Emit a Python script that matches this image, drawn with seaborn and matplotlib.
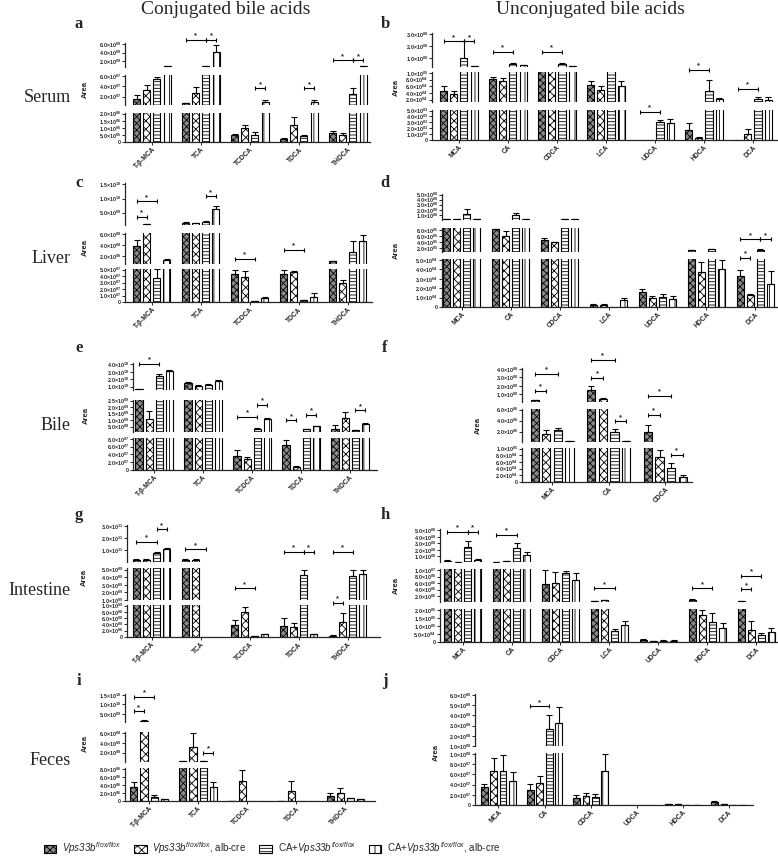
import numpy as np
import pandas as pd
import matplotlib
matplotlib.use("Agg")
import matplotlib.pyplot as plt
from matplotlib.patches import Patch
import seaborn as sns

# bile acids on the x axis
conj = ["T-β-MCA", "TCA", "TCDCA", "TDCA", "THDCA"]
unconj = ["MCA", "CA", "CDCA", "LCA", "UDCA", "HDCA", "DCA"]
bile_unconj = ["MCA", "CA", "CDCA"]
feces_unconj = ["MCA", "CA", "CDCA", "UDCA", "HDCA", "DCA"]

groups = ["flox", "flox_cre", "ca_flox", "ca_flox_cre"]
group_labels = [r"$\mathit{Vps33b}^{\mathit{flox/flox}}$",
                r"$\mathit{Vps33b}^{\mathit{flox/flox}}$, alb-cre",
                r"CA+$\mathit{Vps33b}^{\mathit{flox/flox}}$",
                r"CA+$\mathit{Vps33b}^{\mathit{flox/flox}}$, alb-cre"]

# mean area, one row per group
a_mean = [[1.55e7, 7e6, 0.5e6, 0.23e6, 0.62e6],
          [3.3e7, 2.8e7, 0.97e6, 1.22e6, 0.5e6],
          [5.4e7, 0.85e9, 0.5e6, 0.39e6, 2.45e7],
          [0.85e9, 4.2e9, 1.0e7, 1.0e7, 0.85e9]]
a_err = [[0.85e7, 0.1e7, 0.07e6, 0.04e6, 0.14e6],
         [0.9e7, 1.1e7, 0.25e6, 0.55e6, 0.14e6],
         [0.4e7, 0.05e9, 0.19e6, 0.14e6, 1.25e7],
         [0.05e9, 1.5e9, 0.4e7, 0.4e7, 0.05e9]]

b_mean = [[4.7e4, 8.1e4, 5e6, 6.3e4, 0, 1.7e3, 0],
          [3.7e4, 7.6e4, 5e6, 5.0e4, 0, 0.4e3, 1.1e3],
          [1.0e8, 5e7, 5e7, 5e6, 3.0e3, 4.7e4, 2.1e4],
          [2.8e7, 3.6e7, 2.8e7, 6.1e4, 2.9e3, 2.1e4, 1.9e4]]
b_err = [[1.4e4, 0.6e4, 0, 1.3e4, 0, 1.2e3, 0],
         [0.8e4, 1.0e4, 0, 1.1e4, 0, 0.15e3, 0.7e3],
         [1.45e8, 0.8e7, 0.8e7, 0, 0.4e3, 3.1e4, 0.7e4],
         [0.1e7, 0.6e7, 0.1e7, 1.5e4, 0.7e3, 0.5e4, 1.0e4]]

c_mean = [[3.8e8, 1.45e9, 4.37e7, 4.3e7, 9.9e7],
          [8.6e8, 1.2e9, 3.84e7, 4.6e7, 2.9e7],
          [3.7e7, 1.8e9, 0.16e7, 0.26e7, 2.67e8],
          [1.17e8, 6.2e9, 0.63e7, 0.8e7, 4.7e8]]
c_err = [[1.1e8, 0.35e9, 0.55e7, 0.7e7, 0.05e8],
         [0.2e8, 0.25e9, 0.9e7, 0.15e7, 0.5e7],
         [1.4e7, 0.35e9, 0.02e7, 0.03e7, 2.0e8],
         [0.3e8, 1.2e9, 0.16e7, 0.6e7, 1.2e8]]

d_mean = [[1.4e7, 8.2e5, 4.6e5, 1.8e3, 1.6e4, 1.17e5, 3.3e4],
          [1.4e7, 5.96e5, 3.8e5, 2.15e3, 1.0e4, 3.77e4, 1.26e4],
          [1.18e8, 9.9e7, 2.05e7, 0, 1.08e4, 1.5e5, 1.4e5],
          [1.2e7, 1.2e7, 1.2e7, 7.2e3, 8.3e3, 4.06e4, 2.4e4]]
d_err = [[0, 0.2e5, 0.8e5, 1.0e3, 3.6e3, 0.05e5, 6.5e3],
         [0, 1.5e5, 0.1e5, 1.4e3, 1.8e3, 9.7e3, 1.1e3],
         [0.92e8, 0.46e8, 0.3e7, 0, 2.9e3, 0.05e5, 0.05e5],
         [0, 0.3e7, 0, 2.8e3, 3.2e3, 9.4e3, 1.4e4]]

e_mean = [[6.3e9, 1.46e10, 3.6e7, 6.5e7, 3.4e8],
          [1.12e9, 1.09e10, 2.75e7, 0.86e7, 1.17e9],
          [2.37e10, 1.23e10, 3.4e8, 2.9e8, 2.1e8],
          [3.15e10, 1.82e10, 1.12e9, 5.2e8, 6.7e8]]
e_err = [[0.3e9, 0.23e10, 1.5e7, 1.3e7, 2.6e8],
         [0.6e9, 0.14e10, 0.6e7, 0.25e7, 0.47e9],
         [0.32e10, 0.1e10, 0.06e9, 0.05e9, 0.03e9],
         [0.1e10, 0.1e10, 0.08e9, 0.03e9, 0.11e9]]

f_mean = [[3e7, 1.5e8, 1.93e6],
          [1.63e6, 5e7, 7.55e4],
          [2.24e6, 1.93e6, 4.3e4],
          [2.8e5, 2.2e5, 1.5e4]]
f_err = [[0.8e7, 0.48e8, 1.2e6],
         [0.73e6, 0.12e8, 2.1e4],
         [0.42e6, 0.49e6, 1.3e4],
         [0.3e5, 0.2e5, 0.7e4]]

g_mean = [[2.46e10, 2.46e10, 3.8e8, 3.6e8, 0.43e8],
          [2.46e10, 2.46e10, 8.1e8, 3.25e8, 4.9e8],
          [8e10, 0, 0.43e8, 4.25e9, 4.1e9],
          [1.16e11, 0, 0.87e8, 0.87e8, 4.38e9]]
g_err = [[0.5e10, 0.3e10, 1.6e8, 2.4e8, 0.2e8],
         [0.3e10, 0.4e10, 1.4e8, 1.1e8, 2.9e8],
         [0.8e10, 0, 0.01e8, 0.75e9, 0.9e9],
         [0.8e10, 0, 0.2e8, 0.2e8, 0.62e9]]

h_mean = [[3.1e7, 2e7, 5.6e6, 5.2e5, 1.05e4, 8.3e5, 5.2e5],
          [2e7, 2.5e7, 6.1e6, 7.3e5, 0.63e4, 1.69e5, 7.4e4],
          [2.39e8, 2.23e8, 9.1e6, 6.75e4, 0.84e4, 1.27e5, 4.2e4],
          [5.1e7, 1.29e8, 6.9e6, 1.05e5, 0.84e4, 8.9e4, 6.3e4]]
h_err = [[0.8e7, 0, 4.3e6, 0.1e5, 0.6e4, 0.2e6, 0.1e6],
         [0, 0, 3.4e6, 0.2e6, 0.2e4, 3.2e4, 5.7e4],
         [1.04e8, 0.87e8, 0.7e6, 1.05e4, 0.2e4, 5.3e4, 1.1e4],
         [0.1e8, 0.42e8, 2.1e6, 2.7e4, 0.2e4, 3.2e4, 2.5e4]]

i_mean = [[3.43e6, 3.2e7, 0.08e6, 0.08e6, 1.26e6],
          [9.7e8, 3.16e8, 5.0e6, 2.6e6, 1.93e6],
          [1.09e6, 2.55e7, 0, 0, 0.67e6],
          [0.5e6, 3.43e6, 0, 0, 0.42e6]]
i_err = [[1.25e6, 0.2e7, 0, 0, 0.84e6],
         [0.63e9, 2.84e8, 2.76e6, 2.26e6, 1.42e6],
         [0.35e6, 0.1e7, 0, 0, 0.17e6],
         [0.05e6, 1.25e6, 0, 0, 0.08e6]]

j_mean = [[3.6e7, 2.96e7, 1.45e7, 0, 1.3e6, 6.6e6],
          [6.6e7, 4.28e7, 1.84e7, 0, 2.0e6, 1.3e6],
          [6.7e7, 2.68e8, 1.51e7, 0, 0.7e6, 0.5e6],
          [4.8e7, 3.24e8, 6.7e7, 0, 0.6e6, 0.5e6]]
j_err = [[0.46e7, 1.2e7, 0.5e7, 0, 0.3e6, 1.5e6],
         [2.6e7, 1.45e7, 0.46e7, 0, 0.3e6, 0.3e6],
         [3.2e7, 1.32e8, 0.6e7, 0, 0.2e6, 0.1e6],
         [1.6e7, 1.55e8, 3.3e7, 0, 0.2e6, 0.1e6]]

# broken y axis: (ylim, ticks) per segment, top to bottom
a_segs = [((0.7e9, 6.2e9), [2e9, 4e9, 6e9]),
          ((4e6, 6.2e7), [2e7, 4e7, 6e7]),
          ((0, 2.05e6), [0, 5e5, 1e6, 1.5e6, 2e6])]
b_segs = [((2.2e7, 3.1e8), [1e8, 2e8, 3e8]),
          ((1.3e4, 1.03e5), [2e4, 4e4, 6e4, 8e4, 1e5]),
          ((0, 5.1e3), [0, 1e3, 2e3, 3e3, 4e3, 5e3])]
c_segs = [((6.2e8, 1.55e10), [5e9, 1e10, 1.5e10]),
          ((5.1e7, 6.2e8), [2e8, 4e8, 6e8]),
          ((0, 5.1e7), [0, 1e7, 2e7, 3e7, 4e7, 5e7])]
d_segs = [((1e6, 5.1e8), [1e8, 2e8, 3e8, 4e8, 5e8]),
          ((6e4, 8.6e5), [2e5, 4e5, 6e5, 8e5]),
          ((0, 5.1e4), [0, 1e4, 2e4, 3e4, 4e4, 5e4])]
e_segs = [((5.4e9, 4.2e10), [1e10, 2e10, 3e10, 4e10]),
          ((8.2e7, 2.55e9), [5e8, 1e9, 1.5e9, 2e9, 2.5e9]),
          ((0, 8.2e7), [0, 2e7, 4e7, 6e7, 8e7])]
f_segs = [((1e7, 4.1e8), [1e8, 2e8, 3e8, 4e8]),
          ((1.0e5, 6.1e6), [2e6, 4e6, 6e6]),
          ((0, 1.02e5), [0, 2e4, 4e4, 6e4, 8e4, 1e5])]
g_segs = [((5.2e9, 3.1e11), [1e11, 2e11, 3e11]),
          ((1.0e9, 5.2e9), [1e9, 2e9, 3e9, 4e9, 5e9]),
          ((0, 1.02e9), [0, 2e8, 4e8, 6e8, 8e8, 1e9])]
h_segs = [((1.5e7, 5.2e8), [1e8, 2e8, 3e8, 4e8, 5e8]),
          ((2.05e5, 1.03e7), [2e6, 4e6, 6e6, 8e6, 1e7]),
          ((0, 2.05e5), [0, 5e4, 1e5, 1.5e5, 2e5])]
i_segs = [((6.2e8, 1.55e10), [5e9, 1e10, 1.5e10]),
          ((1.2e7, 6.2e8), [2e8, 4e8, 6e8]),
          ((0, 8.2e6), [0, 2e6, 4e6, 6e6, 8e6])]
j_segs = [((1.0e8, 6.1e8), [1e8, 2e8, 3e8, 4e8, 5e8, 6e8]),
          ((0, 1.02e8), [0, 2e7, 4e7, 6e7, 8e7, 1e8])]

# significance brackets: (segment, acid, group from, group to, height in segment)
a_sig = [(0, 1, 0, 2, 1.14), (0, 1, 2, 3, 1.14), (0, 4, 0, 2, 0.28), (0, 4, 2, 3, 0.28),
         (1, 2, 2, 3, 0.56), (1, 3, 2, 3, 0.56)]
b_sig = [(0, 0, 0, 2, 0.75), (0, 0, 2, 3, 0.75), (0, 1, 0, 2, 0.45), (0, 2, 0, 2, 0.45),
         (1, 5, 0, 2, 1.08), (1, 6, 0, 2, 0.44), (2, 4, 0, 2, 0.94)]
c_sig = [(0, 0, 0, 1, 0.2), (0, 0, 0, 2, 0.56), (0, 1, 2, 3, 0.68), (1, 2, 0, 2, 0.16),
         (1, 3, 0, 2, 0.45)]
d_sig = [(2, 6, 0, 1, 1.02), (1, 6, 0, 2, 0.53), (1, 6, 2, 3, 0.53)]
e_sig = [(0, 0, 0, 2, 0.96), (1, 2, 0, 2, 0.47), (1, 2, 2, 3, 0.84), (1, 3, 0, 1, 0.37),
         (1, 3, 2, 3, 0.53), (1, 4, 2, 3, 0.68)]
f_sig = [(0, 0, 0, 1, 0.32), (0, 0, 0, 2, 0.82), (0, 1, 0, 1, 0.72), (0, 1, 0, 2, 1.25),
         (0, 2, 0, 2, 0.18), (1, 1, 2, 3, 0.63), (1, 2, 0, 1, 0.82), (2, 2, 2, 3, 0.8)]
g_sig = [(0, 0, 0, 2, 0.55), (0, 0, 2, 3, 0.88), (0, 1, 0, 2, 0.34), (0, 3, 0, 2, 0.27),
         (0, 3, 2, 3, 0.27), (0, 4, 0, 2, 0.27), (1, 2, 0, 2, 0.36), (2, 4, 0, 1, 1.06)]
h_sig = [(0, 0, 0, 2, 0.91), (0, 0, 2, 3, 0.91), (0, 1, 0, 2, 0.82), (1, 3, 0, 2, 0.41),
         (1, 5, 0, 2, 0.41), (1, 6, 0, 1, 0.38), (1, 6, 0, 2, 0.79)]
i_sig = [(0, 0, 0, 1, 0.38), (0, 0, 0, 2, 0.89), (1, 1, 2, 3, 0.31)]
j_sig = [(0, 1, 0, 2, 0.76)]

W, H = 778, 863
faces = ["#8a8a8a", "white", "white", "white"]
hatches = ["xxxxx", "xxxx", "-----", "|||"]

sns.set_style("ticks")
plt.rcParams["font.family"] = ["Liberation Sans", "DejaVu Sans"]
plt.rcParams["font.weight"] = "bold"
plt.rcParams["mathtext.fontset"] = "custom"
# digits in math fall back to rm, so rm is italic for the gene name
plt.rcParams["mathtext.rm"] = "Liberation Sans:style=italic:weight=normal"
plt.rcParams["mathtext.it"] = "Liberation Sans:style=italic:weight=normal"
plt.rcParams["mathtext.bf"] = "Liberation Sans:weight=bold"
plt.rcParams["hatch.linewidth"] = 0.6
plt.rcParams["axes.linewidth"] = 0.9

fig = plt.figure(figsize=(W / 100, H / 100), dpi=100)


def rect(x0, x1, y0, y1):
    return [x0 / W, 1 - y1 / H, (x1 - x0) / W, (y1 - y0) / H]


def sci(v):
    if v == 0:
        return "0"
    m, e = f"{v:.1e}".split("e")
    return f"{m}×10$^{{\\mathbf{{{int(e):02d}}}}}$"


def panel(cats, mean, err, segs, sig, xspan, rows, xlim):
    df = pd.DataFrame({"acid": [c for g in groups for c in cats],
                       "group": [g for g in groups for c in cats],
                       "area": np.ravel(mean)})
    axes, bars_by_seg = [], []
    for k, ((lim, ticks), (top, bottom)) in enumerate(zip(segs, rows)):
        last = k == len(segs) - 1
        ax = fig.add_axes(rect(xspan[0], xspan[1], top, bottom))
        sns.barplot(data=df, x="acid", y="area", hue="group", order=cats,
                    hue_order=groups, width=0.82, gap=0.3, errorbar=None,
                    legend=False, edgecolor="black", linewidth=0.8, ax=ax)
        bars = list(ax.containers)
        for g, cont in enumerate(bars):
            m = np.array(mean[g], dtype=float)
            e = np.array(err[g], dtype=float)
            for p in cont:
                p.set_facecolor(faces[g])
                p.set_hatch(hatches[g])
                if not last and p.get_height() <= lim[0]:
                    p.set_visible(False)
            xs = np.array([p.get_x() + p.get_width() / 2 for p in cont])
            keep = (m + e > lim[0] * 1.02) if not last else (m > 0)
            if keep.any():
                ax.errorbar(xs[keep], m[keep], yerr=[np.zeros(keep.sum()), e[keep]],
                            fmt="none", ecolor="black", elinewidth=0.8, capsize=2,
                            capthick=0.8)
        ax.set_xlim(xlim)
        ax.set_ylim(lim)
        ax.set_yticks(ticks)
        ax.set_yticklabels([sci(t) for t in ticks])
        ax.tick_params(axis="y", labelsize=3.8, length=2, width=0.7, pad=1)
        ax.set_xlabel("")
        ax.set_ylabel("")
        sns.despine(ax=ax)
        if not last:
            ax.spines["bottom"].set_visible(False)
            ax.tick_params(axis="x", length=0, labelbottom=False)
        else:
            ax.tick_params(axis="x", length=2, width=0.7, pad=1)
            ax.set_xticks(range(len(cats)))
            ax.set_xticklabels(cats, rotation=45, ha="right", rotation_mode="anchor",
                               fontsize=4.8)
        axes.append(ax)
        bars_by_seg.append(bars)
    for seg, c, ga, gb, yf in sig:
        ax = axes[seg]
        pa, pb = bars_by_seg[seg][ga][c], bars_by_seg[seg][gb][c]
        xa = pa.get_x() + pa.get_width() / 2
        xb = pb.get_x() + pb.get_width() / 2
        tr = ax.get_xaxis_transform()
        ax.plot([xa, xb], [yf, yf], color="black", lw=0.8, marker="|", ms=3.5,
                mew=0.8, transform=tr, clip_on=False)
        ax.annotate("*", ((xa + xb) / 2, yf), xycoords=tr, xytext=(0, 0.3),
                    textcoords="offset points", ha="center", va="bottom", fontsize=5.5,
                    annotation_clip=False)
    return axes


panel(conj, a_mean, a_err, a_segs, a_sig, (125, 370), [(43, 67), (75, 105), (113, 142)], (-0.55, 4.45))
panel(unconj, b_mean, b_err, b_segs, b_sig, (432, 777), [(33, 67), (72, 102), (110, 140)], (-0.55, 6.49))
panel(conj, c_mean, c_err, c_segs, c_sig, (125, 372), [(183, 225), (233, 264), (269, 302)], (-0.55, 4.5))
panel(unconj, d_mean, d_err, d_segs, d_sig, (442, 777), [(194, 220), (228, 252), (259, 307)], (-0.4, 6.44))
panel(conj, e_mean, e_err, e_segs, e_sig, (133, 377), [(363, 390), (400, 432), (438, 470)], (-0.43, 4.55))
panel(bile_unconj, f_mean, f_err, f_segs, f_sig, (522, 692), [(368, 402), (409, 442), (448, 482)], (-0.53, 2.47))
panel(conj, g_mean, g_err, g_segs, g_sig, (127, 380), [(525, 562), (568, 600), (605, 637)], (-0.5, 4.66))
panel(unconj, h_mean, h_err, h_segs, h_sig, (440, 777), [(529, 562), (569, 602), (609, 642)], (-0.46, 6.42))
panel(conj, i_mean, i_err, i_segs, i_sig, (125, 375), [(694, 722), (732, 762), (768, 801)], (-0.49, 4.61))
panel(feces_unconj, j_mean, j_err, j_segs, j_sig, (475, 753), [(694, 746), (753, 805)], (-0.51, 5.53))

# "Area" labels next to each panel
for x, y in [(85, 90), (396, 87), (85, 248), (396, 250), (86, 415),
             (478, 425), (84, 578), (396, 585), (85, 743), (436, 752)]:
    fig.text(x / W, 1 - y / H, "Area", rotation=90, ha="center", va="center", fontsize=5.5)

serif = "Liberation Serif"
fig.text(226 / W, 1 - 10 / H, "Conjugated bile acids", family=serif, weight="normal",
         fontsize=14, ha="center", va="center")
fig.text(590 / W, 1 - 10 / H, "Unconjugated bile acids", family=serif, weight="normal",
         fontsize=14, ha="center", va="center")
for name, y in [("Serum", 97), ("Liver", 258), ("Bile", 425), ("Intestine", 590), ("Feces", 760)]:
    fig.text(71 / W, 1 - y / H, name, family=serif, weight="normal", fontsize=13,
             ha="right", va="center")
for letter, x, y in [("a", 79, 24), ("b", 385, 24), ("c", 79, 183), ("d", 385, 183),
                     ("e", 79, 348), ("f", 385, 348), ("g", 79, 515), ("h", 385, 515),
                     ("i", 79, 681), ("j", 385, 681)]:
    fig.text(x / W, 1 - y / H, letter, family=serif, weight="bold", fontsize=12,
             ha="center", va="center")

handles = [Patch(facecolor=faces[g], hatch=hatches[g], edgecolor="black", lw=0.8)
           for g in range(4)]
fig.legend(handles, group_labels, loc="center", bbox_to_anchor=(272 / W, 1 - 848 / H),
           ncol=4, frameon=False, prop={"size": 7, "weight": "normal"},
           handlelength=1.3, handleheight=0.9, columnspacing=1.3, handletextpad=0.6)

fig.savefig("out.png", dpi=100)
